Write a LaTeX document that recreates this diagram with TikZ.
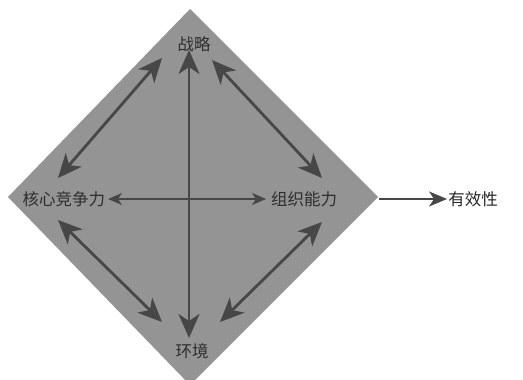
\documentclass[tikz,border=0pt]{standalone}
\usepackage{fontspec}
\newfontfamily\cjk{Noto Sans CJK SC}
\usetikzlibrary{arrows.meta}
\begin{document}
\begin{tikzpicture}[x=1pt,y=-1pt,
  lbl/.style={font=\cjk\fontsize{16.5}{16.5}\selectfont, text=black!82, inner sep=1pt},
  big/.style={line width=2.8pt, draw=black!72, {Stealth[length=24pt,width=21pt,inset=7pt]}-{Stealth[length=24pt,width=21pt,inset=7pt]}},
  thin/.style={line width=1.5pt, draw=black!72, {Stealth[length=14pt,width=12pt,inset=4pt]}-{Stealth[length=14pt,width=12pt,inset=4pt]}}]
\useasboundingbox (0,0) rectangle (523,380);
\fill[black!42] (190,9) -- (378,197) -- (190,385) -- (8,197) -- cycle;
\node[lbl] (ss) at (194,44) {战略};
\node[lbl] (hx) at (64,199) {核心竞争力};
\node[lbl] (zz) at (304,199) {组织能力};
\node[lbl] (hj) at (192,351) {环境};
\node[lbl, text=black!85] (yx) at (473,199) {有效性};
\coordinate (rv) at (379,199);
\draw[big] (189,50) -- (189,338);
\draw[thin] (108,199) -- (266,199);
\draw[big] (58,178) -- (162,58);
\draw[big] (212,60) -- (322,178);
\draw[big] (58,220) -- (162,322);
\draw[big] (220,322) -- (322,222);
\draw[line width=1.8pt, draw=black!72, -{Stealth[length=18pt,width=15pt,inset=5pt]}] (rv) -- (yx.west);
\end{tikzpicture}
\end{document}
